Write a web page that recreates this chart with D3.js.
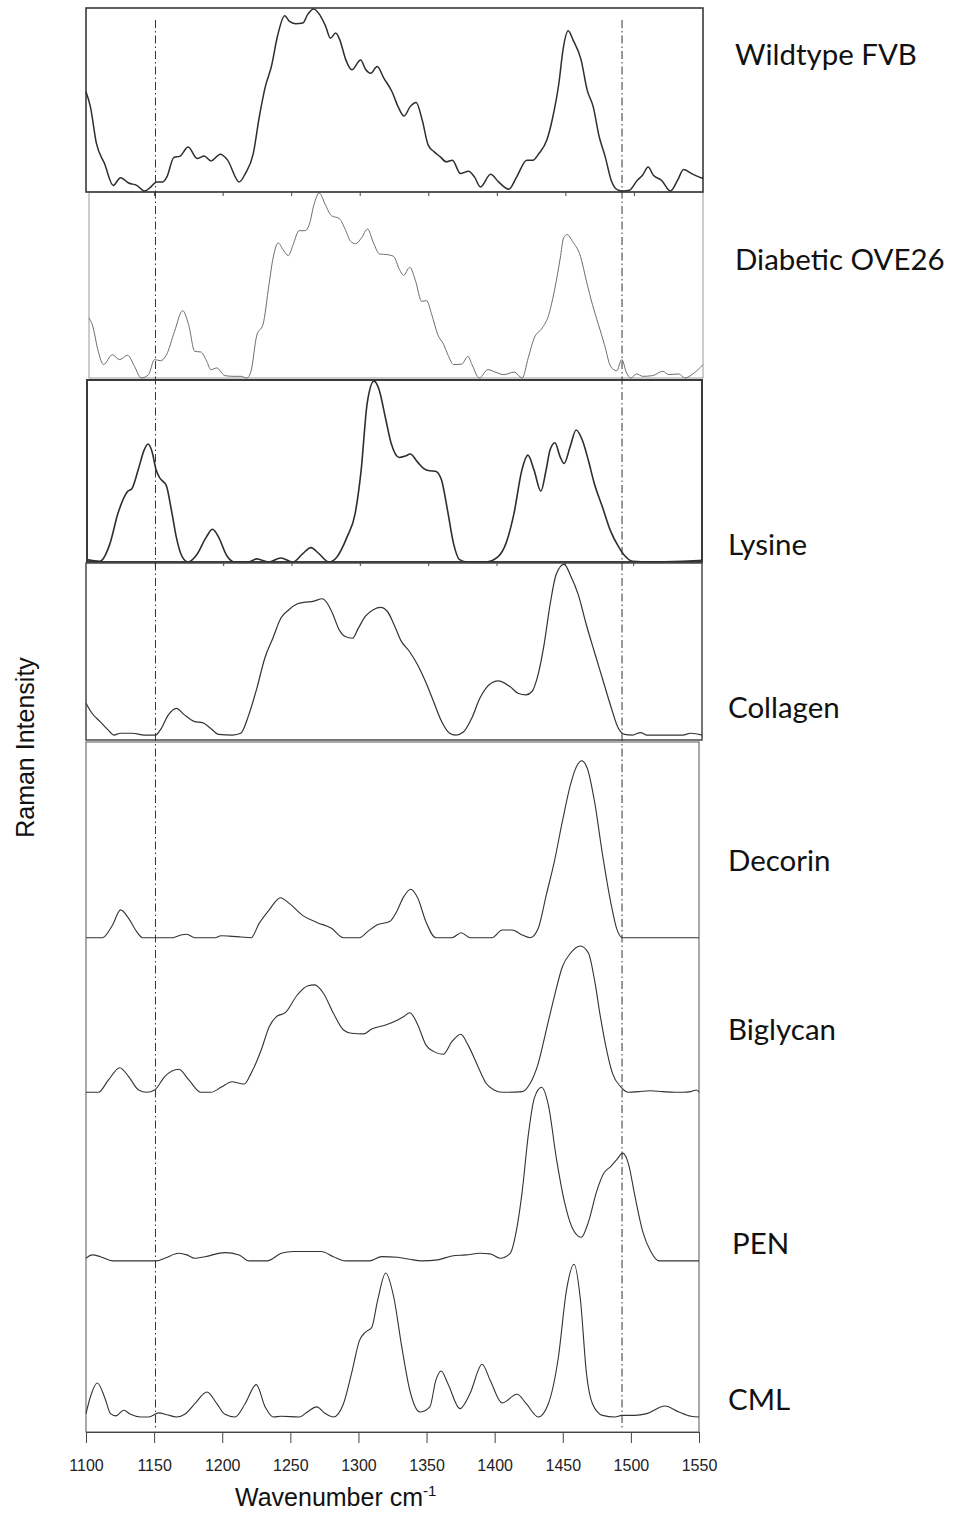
<!DOCTYPE html>
<html><head><meta charset="utf-8">
<script src="https://cdn.jsdelivr.net/npm/d3@7"></script>
<style>html,body{margin:0;padding:0;background:#fff}svg{display:block}</style>
</head><body><svg id="chart" width="958" height="1513"></svg>
<script>
// ---------------- DATA ----------------
const wavenumberTicks = [1100,1150,1200,1250,1300,1350,1400,1450,1500,1550];
const markerWavenumbers = [1151, 1493.5];
const spectrumNames = ["Wildtype FVB","Diabetic OVE26","Lysine","Collagen","Decorin","Biglycan","PEN","CML"];

const wildtypeFVB = [[1100,0.545],[1103.2,0.464],[1107.6,0.264],[1113.5,0.155],[1119.9,0.036],[1125.2,0.078],[1131.1,0.049],[1137,0.036],[1142.8,0.005],[1147.2,0.027],[1151.6,0.055],[1156,0.055],[1159,0.082],[1164,0.187],[1168.6,0.195],[1174.5,0.245],[1181,0.182],[1186.2,0.195],[1191.2,0.169],[1198,0.205],[1203,0.176],[1211.8,0.055],[1216.2,0.1],[1222,0.209],[1226.4,0.409],[1230.8,0.573],[1235.2,0.682],[1239.6,0.845],[1244.9,0.958],[1248.4,0.927],[1252.8,0.915],[1258.1,0.918],[1261.6,0.964],[1266,0.995],[1270.4,0.964],[1274.8,0.9],[1278.3,0.836],[1282.1,0.864],[1285.1,0.827],[1289.5,0.718],[1293.9,0.664],[1300.3,0.718],[1304.1,0.664],[1307.7,0.645],[1312.3,0.682],[1317.3,0.618],[1323.2,0.545],[1327.6,0.464],[1332,0.413],[1336.4,0.464],[1340.8,0.487],[1345.2,0.391],[1349.6,0.255],[1354,0.218],[1358.4,0.191],[1362.8,0.164],[1367.2,0.173],[1373.1,0.1],[1378.9,0.113],[1383.3,0.082],[1387.7,0.027],[1395.1,0.096],[1400.9,0.055],[1408.3,0.015],[1414.1,0.082],[1421.5,0.173],[1425.9,0.173],[1430.3,0.209],[1436.1,0.282],[1440.5,0.409],[1444.9,0.591],[1447.9,0.773],[1451.7,0.876],[1455.2,0.827],[1461.1,0.718],[1465.5,0.555],[1469.9,0.464],[1474.3,0.3],[1478.7,0.191],[1483,0.064],[1487.4,0.013],[1491.9,0.005],[1496.3,0.009],[1502.1,0.064],[1505.9,0.091],[1510,0.136],[1513.8,0.091],[1519.7,0.064],[1526.2,0.005],[1531.5,0.064],[1535.8,0.122],[1541.7,0.1],[1550,0.073]];

const diabeticOVE26 = [[1100,0.323],[1102.4,0.287],[1106.8,0.143],[1110.6,0.072],[1117.1,0.125],[1122.4,0.099],[1128.3,0.122],[1133.3,0.063],[1138.3,0],[1143.6,0.018],[1148,0.099],[1152.4,0.093],[1156.8,0.125],[1162.7,0.251],[1168.6,0.362],[1173,0.287],[1177.5,0.143],[1181.9,0.14],[1186.3,0.09],[1189.2,0.045],[1193.7,0.054],[1199.5,0.013],[1205.4,0.009],[1211.3,0.009],[1215.7,0],[1218.7,0.036],[1223.1,0.233],[1227.5,0.287],[1231.9,0.502],[1234.9,0.645],[1238.7,0.726],[1242.2,0.69],[1246.1,0.658],[1249.6,0.717],[1254,0.792],[1258.4,0.792],[1261.4,0.824],[1264.9,0.932],[1268.7,0.995],[1273.2,0.932],[1277.6,0.873],[1283.5,0.857],[1287.9,0.797],[1291.7,0.735],[1295.3,0.722],[1299.7,0.753],[1304.1,0.801],[1308.5,0.726],[1312.9,0.667],[1318.8,0.663],[1323.2,0.654],[1327.6,0.582],[1330.6,0.552],[1335,0.595],[1339.4,0.52],[1343.8,0.412],[1347.4,0.416],[1351.2,0.341],[1355.6,0.233],[1360,0.179],[1363,0.125],[1367.4,0.072],[1373.3,0.075],[1377.7,0.116],[1380.7,0.072],[1386,0],[1392.4,0.045],[1398.3,0.03],[1404.2,0.018],[1411.6,0.032],[1417.5,0],[1421.9,0.108],[1426.3,0.215],[1432.2,0.269],[1436.6,0.332],[1441,0.466],[1445.4,0.645],[1447.8,0.753],[1450.5,0.771],[1454.3,0.735],[1460.2,0.654],[1464.6,0.52],[1469,0.394],[1473.4,0.287],[1477.8,0.179],[1482.3,0.063],[1486.7,0.039],[1490.5,0.099],[1494,0.027],[1497,0],[1501.4,0.022],[1505.8,0.009],[1513.2,0.013],[1520.5,0.036],[1525,0.018],[1532.3,0.022],[1536.7,0],[1542.6,0.022],[1550,0.072]];

const lysine = [[1100,0.013],[1109.4,0.004],[1116.8,0.101],[1122.6,0.266],[1129.4,0.385],[1132.9,0.404],[1137.4,0.505],[1141.8,0.615],[1144.7,0.648],[1147.6,0.606],[1150.6,0.505],[1153.5,0.459],[1157.9,0.422],[1161.8,0.284],[1165.3,0.138],[1169.7,0.028],[1174.1,0],[1180,0.037],[1187.4,0.138],[1191.8,0.18],[1196.2,0.138],[1202.1,0.037],[1207.9,0],[1218.2,0],[1224.1,0.017],[1232.9,0],[1241.8,0.022],[1250.6,0],[1257.9,0.046],[1263.8,0.079],[1269.7,0.046],[1277.1,0],[1282.9,0.028],[1290.3,0.138],[1296.2,0.266],[1300.6,0.505],[1305,0.872],[1310,0.994],[1313.8,0.945],[1318.2,0.798],[1322.6,0.651],[1328.5,0.574],[1332.9,0.582],[1336.5,0.593],[1341.8,0.55],[1346.2,0.514],[1350.6,0.501],[1355,0.499],[1359.4,0.45],[1363.8,0.284],[1368.2,0.101],[1372.6,0.013],[1378.5,0],[1391.8,0],[1400.6,0.028],[1406.5,0.101],[1412.4,0.266],[1418.2,0.505],[1422.6,0.587],[1427.1,0.505],[1432.1,0.389],[1435.9,0.505],[1438.8,0.615],[1442.4,0.655],[1446.2,0.578],[1449.1,0.541],[1453.5,0.633],[1457.9,0.725],[1462.4,0.67],[1466.8,0.56],[1471.2,0.431],[1477.1,0.303],[1482.9,0.174],[1488.8,0.086],[1493.2,0.037],[1499.1,0.004],[1512.4,0],[1535.9,0.004],[1550,0.009]];

const collagen = [[1100,0.208],[1104.4,0.151],[1110.3,0.104],[1116.1,0.057],[1120.5,0.028],[1125,0.038],[1133.8,0.038],[1142.6,0.028],[1150.8,0.028],[1154.3,0.057],[1160.2,0.142],[1166,0.179],[1171.9,0.142],[1179.3,0.104],[1185.1,0.098],[1191,0.066],[1196.9,0.032],[1207.1,0.028],[1213,0.038],[1218.9,0.142],[1224.8,0.292],[1230.6,0.462],[1236.5,0.575],[1242.4,0.689],[1248.2,0.736],[1254.1,0.768],[1260,0.779],[1265.9,0.783],[1272.6,0.798],[1276.1,0.774],[1280.5,0.708],[1284.9,0.623],[1289.3,0.585],[1294.6,0.575],[1299,0.632],[1304,0.698],[1309.9,0.736],[1315.2,0.749],[1320.2,0.726],[1324.6,0.66],[1330.4,0.557],[1336.3,0.5],[1342.2,0.425],[1348,0.33],[1353.9,0.217],[1359.8,0.104],[1365.6,0.038],[1370.1,0.028],[1375.9,0.047],[1381.8,0.123],[1387.7,0.236],[1392.1,0.292],[1400.9,0.334],[1409.7,0.302],[1415.6,0.264],[1421.4,0.255],[1425.8,0.274],[1430.2,0.368],[1434.6,0.538],[1439,0.764],[1443.4,0.934],[1449.3,0.994],[1453.7,0.934],[1459.6,0.821],[1465.5,0.651],[1471.3,0.5],[1477.2,0.349],[1483.1,0.198],[1488.9,0.066],[1493.4,0.032],[1499.2,0.028],[1505.1,0.042],[1509.5,0.028],[1521.2,0.028],[1535.9,0.028],[1541.8,0.038],[1550,0.028]];

const decorin = [[1100,0],[1112.1,0],[1119.5,0.072],[1125.4,0.157],[1131.3,0.109],[1137.2,0.034],[1141.6,0],[1163.7,0],[1169.6,0.015],[1174,0.019],[1179.9,0],[1194.7,0],[1199.1,0.011],[1205,0.009],[1213.8,0.004],[1221.2,0],[1227.1,0.081],[1234.5,0.157],[1242.7,0.226],[1249.2,0.194],[1259.5,0.123],[1269.9,0.085],[1280.2,0.053],[1289,0],[1300.8,0],[1306.7,0.034],[1313.5,0.072],[1322.9,0.091],[1327.4,0.138],[1333.3,0.232],[1338.3,0.274],[1343.6,0.223],[1349.5,0.091],[1356.8,0],[1368.6,0],[1375.4,0.028],[1381.9,0],[1398.1,0],[1405.5,0.043],[1412.9,0.043],[1420.2,0.015],[1426.1,0],[1432,0.053],[1437.9,0.242],[1443.8,0.43],[1449.7,0.657],[1455.6,0.864],[1460.1,0.968],[1463.9,1.0],[1468,0.958],[1473.3,0.77],[1479.2,0.468],[1485.1,0.204],[1489.5,0.053],[1494,0],[1550,0]];

const biglycan = [[1100,0],[1109.1,0],[1116.5,0.07],[1124.8,0.139],[1131.3,0.089],[1138.6,0.013],[1144.5,0],[1150.4,0.013],[1157.8,0.089],[1168.1,0.13],[1175.5,0.07],[1184.3,0],[1191.7,0],[1199.1,0.028],[1207.3,0.06],[1212.4,0.051],[1216.2,0.047],[1221.2,0.107],[1228.6,0.239],[1234.5,0.371],[1239.8,0.428],[1246.3,0.45],[1255.1,0.55],[1262.5,0.601],[1267.8,0.607],[1274.3,0.56],[1281.6,0.447],[1289,0.352],[1294.9,0.334],[1303.8,0.33],[1309.7,0.358],[1320,0.381],[1328.8,0.409],[1333.3,0.428],[1337.7,0.45],[1343.6,0.381],[1349.5,0.268],[1355.4,0.23],[1362.2,0.215],[1368.6,0.286],[1375.1,0.328],[1380.4,0.268],[1387.8,0.145],[1393.7,0.051],[1399.6,0.013],[1405.5,0],[1420.2,0.004],[1426.1,0.051],[1432,0.164],[1437.9,0.352],[1443.8,0.541],[1449.7,0.71],[1455.6,0.786],[1463,0.827],[1468.9,0.786],[1473.3,0.635],[1477.6,0.428],[1482.2,0.239],[1486.5,0.107],[1492.4,0.032],[1498.3,0],[1505.6,0.004],[1514.5,0.009],[1523.3,0.004],[1532.2,0],[1538.1,0],[1544,0.004],[1548.4,0.013],[1550,0]];

const pen = [[1100,0.015],[1104.7,0.034],[1110.6,0.024],[1119.5,0],[1151.9,0],[1157.8,0.015],[1168.1,0.043],[1174,0.034],[1179.9,0.015],[1187.3,0.024],[1202,0.047],[1212.4,0.034],[1219.7,0],[1233,0],[1243.3,0.043],[1252.2,0.053],[1272.8,0.053],[1281.6,0.024],[1290.5,0],[1308.2,0],[1317,0.024],[1328.8,0.021],[1337.7,0.009],[1346.5,0],[1358.3,0.006],[1368.6,0.028],[1379,0.034],[1389.3,0.043],[1396.7,0.04],[1404,0.015],[1411.4,0.043],[1415.8,0.166],[1420.2,0.392],[1424.7,0.712],[1429.1,0.92],[1434.4,0.982],[1439.4,0.882],[1445.3,0.58],[1451.2,0.335],[1457.1,0.185],[1463.6,0.134],[1468.9,0.222],[1474.8,0.392],[1480.1,0.496],[1485.1,0.533],[1489.5,0.571],[1494,0.609],[1498.4,0.543],[1502.8,0.373],[1508.7,0.166],[1514.6,0.053],[1520.5,0],[1550,0]];

const cml = [[1100,0.019],[1103.2,0.113],[1108.3,0.192],[1113.6,0.113],[1118,0.019],[1121.8,0.006],[1127.7,0.038],[1132.7,0.015],[1140.1,0],[1146,0],[1153.4,0.023],[1159.3,0.013],[1166.6,0],[1172.5,0.015],[1179.9,0.075],[1188.8,0.141],[1196.1,0.075],[1202,0.015],[1209.4,0],[1216.8,0.075],[1225,0.183],[1231.5,0.057],[1237.4,0],[1243.3,0.004],[1256.6,0],[1262.5,0.028],[1269.3,0.057],[1275.8,0.019],[1281.6,0],[1289,0.075],[1294.9,0.245],[1300.8,0.433],[1305.2,0.48],[1309.7,0.505],[1314.1,0.66],[1320,0.814],[1325.9,0.678],[1331.8,0.396],[1337.7,0.151],[1345.1,0.028],[1352.4,0.057],[1356.8,0.207],[1360.7,0.26],[1365.7,0.188],[1374.5,0.047],[1381.9,0.132],[1390.8,0.298],[1396.7,0.207],[1405.5,0.079],[1416.4,0.128],[1423.2,0.075],[1432,0],[1439.4,0.075],[1446.8,0.339],[1452.7,0.716],[1458.3,0.863],[1463,0.66],[1467.4,0.245],[1471.8,0.075],[1479.2,0.009],[1488.1,0],[1493.4,0.009],[1502.8,0.009],[1511.7,0.019],[1525,0.062],[1535.3,0.028],[1544.1,0.004],[1550,0]];

// ---------------- LAYOUT ----------------
const panels = [
  {key:"p2", x0:89, x1:703, y0:192, y1:378, yMax:1, border:"#9a9a9a", bw:1, ticks:false,
   series:[{data:diabeticOVE26, offset:0, color:"#6e6e6e", w:1}]},
  {key:"p1", x0:86, x1:703, y0:8, y1:192, yMax:1, border:"#3a3a3a", bw:1.6, ticks:true,
   series:[{data:wildtypeFVB, offset:0, color:"#2e2e2e", w:1.5}]},
  {key:"p3", x0:87, x1:702, y0:380, y1:562, yMax:1, border:"#3a3a3a", bw:2, ticks:true,
   series:[{data:lysine, offset:0, color:"#2e2e2e", w:1.6}]},
  {key:"p4", x0:86, x1:702, y0:563, y1:740, yMax:1, border:"#4a4a4a", bw:1.5, ticks:false,
   series:[{data:collagen, offset:0, color:"#333", w:1.2}]},
  {key:"p5", x0:86, x1:699, y0:742, y1:1432, yMax:3.9, border:"#555", bw:1, ticks:false,
   series:[{data:decorin, offset:2.794, color:"#333", w:1.1},
           {data:biglycan, offset:1.920, color:"#333", w:1.1},
           {data:pen, offset:0.967, color:"#333", w:1.1},
           {data:cml, offset:0.085, color:"#333", w:1.1}]}
];
const labelLayout = [
  {x:735,y:65},{x:735,y:270},{x:728,y:555},{x:728,y:718},
  {x:728,y:871},{x:728,y:1040},{x:732,y:1254},{x:728,y:1410}
];

// ---------------- DRAW ----------------
const svg = d3.select("#chart");
const line = d3.line().curve(d3.curveMonotoneX);

panels.forEach(p => {
  const x = d3.scaleLinear().domain([1100,1550]).range([p.x0, p.x1]);
  const y = d3.scaleLinear().domain([0,p.yMax]).range([p.y1, p.y0]);
  const g = svg.append("g").attr("class", p.key);
  g.append("rect").attr("x",p.x0).attr("y",p.y0)
    .attr("width",p.x1-p.x0).attr("height",p.y1-p.y0)
    .attr("fill","none").attr("stroke",p.border).attr("stroke-width",p.bw);
  p.series.forEach(s => {
    g.append("path")
      .attr("d", line.x(d=>x(d[0])).y(d=>y(d[1]+s.offset))(s.data))
      .attr("fill","none").attr("stroke",s.color).attr("stroke-width",s.w)
      .attr("stroke-linejoin","round");
  });
  if (p.ticks) {
    g.selectAll("line.tk").data(wavenumberTicks.slice(1,-1)).enter().append("line")
      .attr("x1",d=>x(d)).attr("x2",d=>x(d)).attr("y1",p.y1).attr("y2",p.y1+4)
      .attr("stroke","#444").attr("stroke-width",1);
  }
});

// Bottom axis
const xBottom = d3.scaleLinear().domain([1100,1550]).range([86,699]);
const axis = d3.axisBottom(xBottom).tickValues(wavenumberTicks).tickFormat(d3.format("d"))
  .tickSize(11).tickSizeOuter(0).tickPadding(16.3);
const ag = svg.append("g").attr("transform","translate(0,1432)").call(axis);
ag.select(".domain").attr("stroke","#444");
ag.selectAll(".tick line").attr("stroke","#444");
ag.selectAll(".tick text").attr("font-family","'Liberation Sans', Arial, sans-serif")
  .attr("font-size",16).attr("fill","#222");

// dash-dot marker lines
svg.selectAll("line.marker").data(markerWavenumbers).enter().append("line")
  .attr("x1",d=>xBottom(d)).attr("x2",d=>xBottom(d)).attr("y1",20).attr("y2",1430)
  .attr("stroke","#333").attr("stroke-width",1).attr("stroke-dasharray","8,3,1.5,3");

// Spectrum labels
const lab = svg.append("g").attr("font-family","Lato, 'Open Sans', sans-serif").attr("fill","#111");
const probe = lab.append("text").attr("font-size",30).text(spectrumNames[0]);
const w30 = probe.node().getComputedTextLength();
probe.remove();
const labelSize = 30 * 182 / w30;
lab.selectAll("text").data(spectrumNames).enter().append("text")
  .attr("x",(d,i)=>labelLayout[i].x).attr("y",(d,i)=>labelLayout[i].y)
  .attr("font-size",labelSize).text(d=>d);

// Axis titles
svg.append("text").attr("transform","translate(33.5,747.5) rotate(-90)")
  .attr("text-anchor","middle").attr("font-family","'Liberation Sans', Arial, sans-serif")
  .attr("font-size",25).attr("fill","#111").text("Raman Intensity");
const xt = svg.append("text").attr("x",235).attr("y",1506)
  .attr("font-family","'Liberation Sans', Arial, sans-serif").attr("font-size",25).attr("fill","#111");
xt.append("tspan").text("Wavenumber cm");
xt.append("tspan").attr("font-size",15).attr("dy",-10).text("-1");
</script>
</body></html>
